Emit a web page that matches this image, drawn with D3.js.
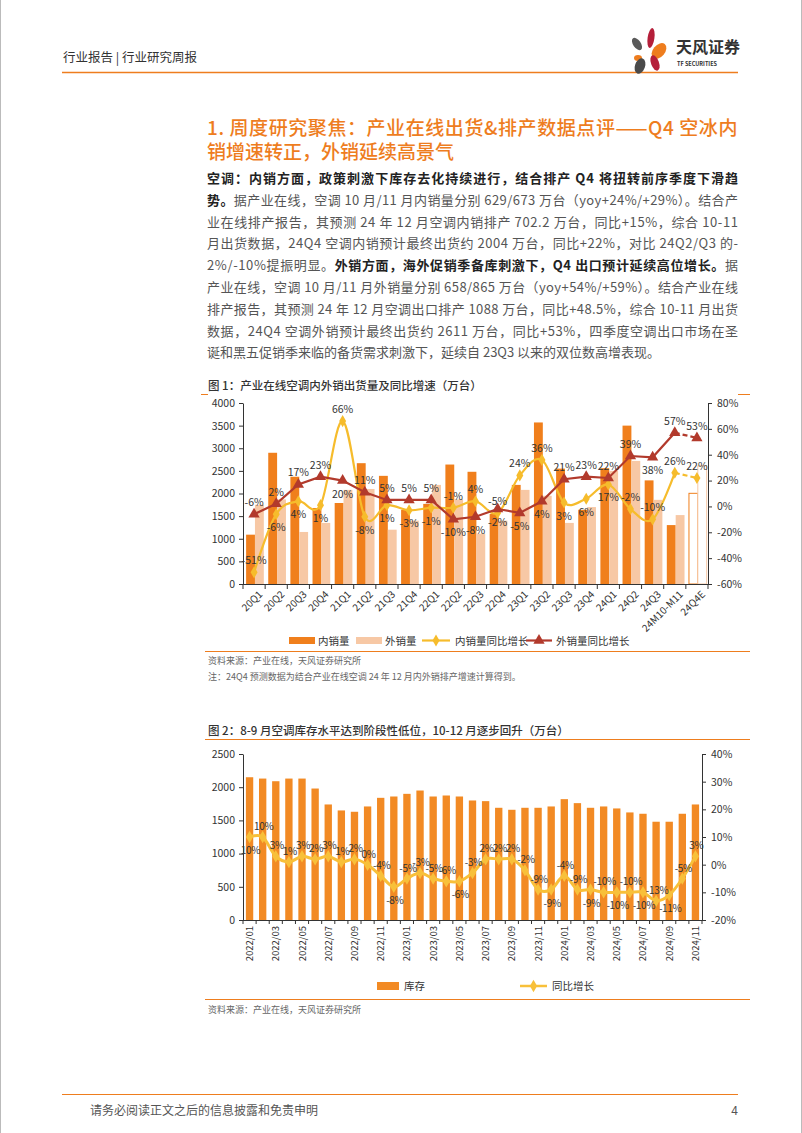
<!DOCTYPE html>
<html><head><meta charset="utf-8">
<script src="https://cdn.jsdelivr.net/npm/d3@7/dist/d3.min.js"></script>
<style>
body{margin:0;background:#fff;}
svg{display:block;font-family:"Noto Sans CJK SC","Noto Sans",sans-serif;}
</style></head><body>
<svg id="page" width="802" height="1133"></svg>
<script>
"use strict";

// ---- data, chart 1 ----
const quarters = ["20Q1","20Q2","20Q3","20Q4","21Q1","21Q2","21Q3","21Q4","22Q1","22Q2","22Q3","22Q4",
  "23Q1","23Q2","23Q3","23Q4","24Q1","24Q2","24Q3","24M10-M11","24Q4E"];
const domestic = [1090,2900,2370,1680,1790,2670,2390,1640,1770,2640,2480,1550,2190,3570,2550,1640,2560,3500,2290,1302,2004];
const exportVol = [1750,1870,1150,1350,2080,2100,1200,1400,2190,1870,1110,1400,2080,1950,1350,1700,2500,2720,1860,1523,2611];
const domesticYoy = [-51,-6,4,1,66,-8,1,-3,-1,-1,4,-5,24,36,3,6,17,-2,-10,26,22];
const exportYoy = [-6,2,17,23,20,11,5,5,5,-10,-8,-2,-5,4,21,23,22,39,38,57,53];
// label side: 1 above, -1 below
const domesticLblSide = [1,-1,-1,-1,1,-1,-1,-1,-1,1,1,1,1,1,-1,-1,-1,1,1,1,1];
const exportLblSide = [1,1,1,1,-1,1,1,1,1,-1,-1,-1,-1,-1,1,1,1,1,-1,1,1];
const leftTicks1 = [0,500,1000,1500,2000,2500,3000,3500,4000];
const rightTicks1 = [-60,-40,-20,0,20,40,60,80];

// ---- data, chart 2 ----
const months = ["2022/01","2022/02","2022/03","2022/04","2022/05","2022/06","2022/07","2022/08","2022/09","2022/10","2022/11","2022/12",
  "2023/01","2023/02","2023/03","2023/04","2023/05","2023/06","2023/07","2023/08","2023/09","2023/10","2023/11","2023/12",
  "2024/01","2024/02","2024/03","2024/04","2024/05","2024/06","2024/07","2024/08","2024/09","2024/10","2024/11"];
const stock = [2150,2130,2090,2130,2130,1980,1740,1650,1630,1710,1840,1860,1900,1950,1860,1875,1860,1800,
  1790,1690,1660,1690,1690,1710,1820,1760,1690,1710,1680,1620,1600,1480,1480,1600,1740];
const stockYoy = [10,10,3,1,3,2,3,1,2,0,-4,-8,-5,-3,-5,-6,-6,-3,2,2,2,-2,-9,-9,-4,-9,-9,-10,-10,-10,-10,-13,-11,-5,3];
const stockLblBelow = [0,11,16,23,26,28,30,32];
const leftTicks2 = [0,500,1000,1500,2000,2500];
const rightTicks2 = [-20,-10,0,10,20,30,40];

const ORANGE = "#EE7D1E", DARK = "#F07F1C", LIGHT = "#F7C8A5", YELLOW = "#F6BC2C", RED = "#B23A2C";
const BAR2 = "#F28A24", LINE2 = "#F8C03A";

const svg = d3.select("#page");

// page edges
svg.append("line").attr("x1",0.5).attr("x2",0.5).attr("y1",0).attr("y2",1133).attr("stroke","#bbb");
svg.append("line").attr("x1",801.5).attr("x2",801.5).attr("y1",0).attr("y2",1133).attr("stroke","#bbb");

// header
svg.append("text").attr("x",63).attr("y",62).attr("font-size",12.5).attr("fill","#333")
  .text("行业报告 | 行业研究周报");
svg.append("line").attr("x1",62).attr("x2",738).attr("y1",72.5).attr("y2",72.5)
  .attr("stroke",ORANGE).attr("stroke-width",1.5);

// logo
const logo = svg.append("g");
[[637,44,3.8,7,-35,"#5a5a5a"],[651,38,3.4,10,8,"#B51F3A"],[659,51,6,9,40,ORANGE],
 [638,58,4,3,0,ORANGE],[640,66,5,8,20,"#4a4a4a"],[655,63,4,8,-20,"#B51F3A"]].forEach(p => {
  logo.append("ellipse").attr("rx",p[2]).attr("ry",p[3])
    .attr("transform",`translate(${p[0]},${p[1]}) rotate(${p[4]})`).attr("fill",p[5]);
});
svg.append("text").attr("x",676).attr("y",53).attr("font-size",16).attr("font-weight",700)
  .attr("fill","#333").text("天风证券");
svg.append("text").attr("x",677).attr("y",66).attr("font-size",5.5).attr("font-weight",700)
  .attr("fill","#333").text("TF SECURITIES");

// justify a text line to a width
function justify(t, width) {
  const n = t.text().length;
  const w = t.node().getComputedTextLength();
  t.attr("letter-spacing", (width - w) / (n - 1));
}

// section title
const titleLines = ["1. 周度研究聚焦：产业在线出货&排产数据点评——Q4 空冰内", "销增速转正，外销延续高景气"];
titleLines.forEach((s,i) => {
  const t = svg.append("text").attr("x",207).attr("y",135 + i*24).attr("font-size",19)
    .attr("font-weight",500).attr("fill",ORANGE).text(s);
  if (i === 0) justify(t, 531);
});

// body
const bodyLines = [
  [["空调：内销方面，政策刺激下库存去化持续进行，结合排产 Q4 将扭转前序季度下滑趋",1]],
  [["势。",1],["据产业在线，空调 10 月/11 月内销量分别 629/673 万台（yoy+24%/+29%）。结合产",0]],
  [["业在线排产报告，其预测 24 年 12 月空调内销排产 702.2 万台，同比+15%，综合 10-11",0]],
  [["月出货数据，24Q4 空调内销预计最终出货约 2004 万台，同比+22%，对比 24Q2/Q3 的-",0]],
  [["2%/-10%提振明显。",0],["外销方面，海外促销季备库刺激下，Q4 出口预计延续高位增长。",1],["据",0]],
  [["产业在线，空调 10 月/11 月外销量分别 658/865 万台（yoy+54%/+59%）。结合产业在线",0]],
  [["排产报告，其预测 24 年 12 月空调出口排产 1088 万台，同比+48.5%，综合 10-11 月出货",0]],
  [["数据，24Q4 空调外销预计最终出货约 2611 万台，同比+53%，四季度空调出口市场在圣",0]],
  [["诞和黑五促销季来临的备货需求刺激下，延续自 23Q3 以来的双位数高增表现。",0]]
];
bodyLines.forEach((segs,i) => {
  const t = svg.append("text").attr("x",207).attr("y",183 + i*21.8).attr("font-size",13);
  segs.forEach(s => t.append("tspan").text(s[0])
    .attr("font-weight", s[1] ? 700 : 400).attr("fill", s[1] ? "#222" : "#555"));
  if (i < bodyLines.length - 1) justify(t, 531);
});

// ================= chart 1 =================
svg.append("text").attr("x",208).attr("y",390).attr("font-size",11.5).attr("font-weight",500)
  .attr("fill","#333").text("图 1：产业在线空调内外销出货量及同比增速（万台）");
svg.append("line").attr("x1",201).attr("x2",208).attr("y1",394.5).attr("y2",394.5).attr("stroke",ORANGE);
svg.append("line").attr("x1",738).attr("x2",750).attr("y1",394.5).attr("y2",394.5).attr("stroke",ORANGE);

const x1 = d3.scaleBand().domain(quarters).range([243,708]);
const y1 = d3.scaleLinear().domain([0,4000]).range([584,403]);
const y1r = d3.scaleLinear().domain([-60,80]).range([584,403]);
const bw1 = x1.bandwidth();
const last1 = quarters.length - 1;
const g1 = svg.append("g");

g1.selectAll(".dom").data(quarters).join("rect").attr("class","dom")
  .attr("x", d => x1(d) + bw1*0.14).attr("width", bw1*0.4)
  .attr("y", (d,i) => y1(domestic[i])).attr("height", (d,i) => y1(0) - y1(domestic[i]))
  .attr("fill", (d,i) => i === last1 ? "#fff" : DARK)
  .attr("stroke", (d,i) => i === last1 ? DARK : "none");
g1.selectAll(".exp").data(quarters).join("rect").attr("class","exp")
  .attr("x", d => x1(d) + bw1*0.54).attr("width", bw1*0.4)
  .attr("y", (d,i) => y1(exportVol[i])).attr("height", (d,i) => y1(0) - y1(exportVol[i]))
  .attr("fill", (d,i) => i === last1 ? "#fff" : LIGHT)
  .attr("stroke", (d,i) => i === last1 ? LIGHT : "none");

// axes
const axL1 = g1.append("g").attr("transform","translate(243,0)")
  .call(d3.axisLeft(y1).tickValues(leftTicks1).tickSize(4).tickSizeOuter(0).tickPadding(4)
    .tickFormat(d3.format("d")));
const clip = svg.append("clipPath").attr("id","clipR");
clip.append("rect").attr("x",0).attr("y",0).attr("width",739).attr("height",1133);
const axR1 = g1.append("g").attr("transform","translate(708,0)").attr("clip-path","url(#clipR)")
  .call(d3.axisRight(y1r).tickValues(rightTicks1).tickSize(4).tickSizeOuter(0).tickPadding(5)
    .tickFormat(d => d + "%"));
[axL1, axR1].forEach(a => {
  a.select(".domain").attr("stroke","#333");
  a.selectAll("line").attr("stroke","#333");
  a.selectAll("text").attr("font-size",10.5).attr("fill","#333")
    .attr("font-family","'Noto Sans CJK SC',sans-serif");
});

g1.append("line").attr("x1",243).attr("x2",708).attr("y1",584.5).attr("y2",584.5).attr("stroke","#333");
g1.selectAll(".xt").data(quarters.concat(["_end"])).join("line")
  .attr("x1", (d,i) => 243 + i*bw1).attr("x2", (d,i) => 243 + i*bw1)
  .attr("y1",584).attr("y2",589).attr("stroke","#333");
g1.selectAll(".xl").data(quarters).join("text")
  .attr("transform", d => `translate(${x1(d) + bw1*0.5 + 9},${595}) rotate(-45)`)
  .attr("text-anchor","end").attr("font-size",10).attr("fill","#333").text(d => d);

// lines
const cx1 = i => x1(quarters[i]) + bw1/2;
const solidIdx = d3.range(0, last1);
const yLine = d3.line().x(i => cx1(i)).y(i => y1r(domesticYoy[i])).curve(d3.curveCatmullRom.alpha(0));
const rLine = d3.line().x(i => cx1(i)).y(i => y1r(exportYoy[i]));
g1.append("path").attr("d", yLine(solidIdx)).attr("fill","none").attr("stroke",YELLOW).attr("stroke-width",2.2);
g1.append("path").attr("d", yLine([last1-1,last1])).attr("fill","none").attr("stroke",YELLOW)
  .attr("stroke-width",2.2).attr("stroke-dasharray","5,3");
g1.append("path").attr("d", rLine(solidIdx)).attr("fill","none").attr("stroke",RED).attr("stroke-width",2.2);
g1.append("path").attr("d", rLine([last1-1,last1])).attr("fill","none").attr("stroke",RED)
  .attr("stroke-width",2.2).attr("stroke-dasharray","5,3");

g1.selectAll(".dm").data(domesticYoy).join("path")
  .attr("d", d3.symbol(d3.symbolDiamond, 42)())
  .attr("transform", (d,i) => `translate(${cx1(i)},${y1r(d)})`).attr("fill",YELLOW);
g1.selectAll(".tm").data(exportYoy).join("path")
  .attr("d", d3.symbol(d3.symbolTriangle, 55)())
  .attr("transform", (d,i) => `translate(${cx1(i)},${y1r(d)})`).attr("fill",RED);

g1.selectAll(".dl").data(domesticYoy).join("text")
  .attr("x", (d,i) => cx1(i)).attr("y", (d,i) => y1r(d) + (domesticLblSide[i] > 0 ? -8 : 17))
  .attr("text-anchor","middle").attr("font-size",10.5).attr("fill","#333").text(d => d + "%");
g1.selectAll(".el").data(exportYoy).join("text")
  .attr("x", (d,i) => cx1(i)).attr("y", (d,i) => y1r(d) + (exportLblSide[i] > 0 ? -8 : 17))
  .attr("text-anchor","middle").attr("font-size",10.5).attr("fill","#333").text(d => d + "%");

// legend 1
const lg1 = svg.append("g").attr("font-size",10.5).attr("fill","#333");
lg1.append("rect").attr("x",289).attr("y",637).attr("width",26).attr("height",7).attr("fill",DARK);
lg1.append("text").attr("x",318).attr("y",645).text("内销量");
lg1.append("rect").attr("x",356).attr("y",637).attr("width",26).attr("height",7).attr("fill",LIGHT);
lg1.append("text").attr("x",385).attr("y",645).text("外销量");
lg1.append("line").attr("x1",422).attr("x2",450).attr("y1",640.5).attr("y2",640.5).attr("stroke",YELLOW).attr("stroke-width",2.2);
lg1.append("path").attr("d", d3.symbol(d3.symbolDiamond, 42)()).attr("transform","translate(436,640.5)").attr("fill",YELLOW);
lg1.append("text").attr("x",455).attr("y",645).text("内销量同比增长");
lg1.append("line").attr("x1",526).attr("x2",552).attr("y1",640.5).attr("y2",640.5).attr("stroke",RED).attr("stroke-width",2.2);
lg1.append("path").attr("d", d3.symbol(d3.symbolTriangle, 55)()).attr("transform","translate(539,640.5)").attr("fill",RED);
lg1.append("text").attr("x",556).attr("y",645).text("外销量同比增长");

svg.append("line").attr("x1",205).attr("x2",750).attr("y1",651.5).attr("y2",651.5).attr("stroke",ORANGE).attr("stroke-width",1.2);
svg.append("text").attr("x",208).attr("y",664).attr("font-size",9).attr("fill","#666").text("资料来源：产业在线，天风证券研究所");
svg.append("text").attr("x",208).attr("y",680).attr("font-size",9).attr("fill","#666").text("注：24Q4 预测数据为结合产业在线空调 24 年 12 月内外销排产增速计算得到。");

// ================= chart 2 =================
svg.append("text").attr("x",208).attr("y",735).attr("font-size",11.5).attr("font-weight",500)
  .attr("fill","#333").text("图 2：8-9 月空调库存水平达到阶段性低位，10-12 月逐步回升（万台）");
svg.append("line").attr("x1",205).attr("x2",750).attr("y1",739.5).attr("y2",739.5).attr("stroke",ORANGE).attr("stroke-width",1.2);

const x2 = d3.scaleBand().domain(months).range([243,702]);
const y2 = d3.scaleLinear().domain([0,2500]).range([920,754]);
const y2r = d3.scaleLinear().domain([-20,40]).range([920,754]);
const bw2 = x2.bandwidth();
const g2 = svg.append("g");

g2.selectAll(".st").data(months).join("rect")
  .attr("x", d => x2(d) + bw2*0.22).attr("width", bw2*0.56)
  .attr("y", (d,i) => y2(stock[i])).attr("height", (d,i) => y2(0) - y2(stock[i]))
  .attr("fill",BAR2);

const axL2 = g2.append("g").attr("transform","translate(243,0)")
  .call(d3.axisLeft(y2).tickValues(leftTicks2).tickSize(4).tickSizeOuter(0).tickPadding(4)
    .tickFormat(d3.format("d")));
const axR2 = g2.append("g").attr("transform","translate(702,0)")
  .call(d3.axisRight(y2r).tickValues(rightTicks2).tickSize(4).tickSizeOuter(0).tickPadding(5)
    .tickFormat(d => d + "%"));
[axL2, axR2].forEach(a => {
  a.select(".domain").attr("stroke","#333");
  a.selectAll("line").attr("stroke","#333");
  a.selectAll("text").attr("font-size",10.5).attr("fill","#333")
    .attr("font-family","'Noto Sans CJK SC',sans-serif");
});
g2.append("line").attr("x1",243).attr("x2",702).attr("y1",920.5).attr("y2",920.5).attr("stroke","#333");
g2.selectAll(".xt2").data(months.concat(["_end"])).join("line")
  .attr("x1", (d,i) => 243 + i*bw2).attr("x2", (d,i) => 243 + i*bw2)
  .attr("y1",920).attr("y2",924).attr("stroke","#333");
g2.selectAll(".xl2").data(months.filter((d,i) => i % 2 === 0)).join("text")
  .attr("transform", d => `translate(${x2(d) + bw2/2 + 3.5},${926}) rotate(-90)`)
  .attr("text-anchor","end").attr("font-size",9.5).attr("fill","#333").text(d => d);

const cx2 = i => x2(months[i]) + bw2/2;
const sLine = d3.line().x(i => cx2(i)).y(i => y2r(stockYoy[i])).curve(d3.curveCatmullRom.alpha(0));
g2.append("path").attr("d", sLine(d3.range(months.length))).attr("fill","none")
  .attr("stroke",LINE2).attr("stroke-width",3);
g2.selectAll(".sm").data(stockYoy).join("path")
  .attr("d", d3.symbol(d3.symbolDiamond, 45)())
  .attr("transform", (d,i) => `translate(${cx2(i)},${y2r(d)})`).attr("fill",LINE2);
g2.selectAll(".sl").data(stockYoy).join("text")
  .attr("x", (d,i) => cx2(i) + 1)
  .attr("y", (d,i) => y2r(d) + (stockLblBelow.includes(i) ? 17 : -7))
  .attr("text-anchor","middle").attr("font-size",10).attr("letter-spacing",-0.3)
  .attr("fill","#333").text(d => d + "%");

// legend 2
const lg2 = svg.append("g").attr("font-size",10.5).attr("fill","#333");
lg2.append("rect").attr("x",377).attr("y",982).attr("width",22).attr("height",8).attr("fill",BAR2);
lg2.append("text").attr("x",404).attr("y",990).text("库存");
lg2.append("line").attr("x1",520).attr("x2",547).attr("y1",986).attr("y2",986).attr("stroke",LINE2).attr("stroke-width",2.5);
lg2.append("path").attr("d", d3.symbol(d3.symbolDiamond, 45)()).attr("transform","translate(533.5,986)").attr("fill",LINE2);
lg2.append("text").attr("x",552).attr("y",990).text("同比增长");

svg.append("line").attr("x1",205).attr("x2",750).attr("y1",999.5).attr("y2",999.5).attr("stroke",ORANGE).attr("stroke-width",1.2);
svg.append("text").attr("x",208).attr("y",1013).attr("font-size",9).attr("fill","#666").text("资料来源：产业在线，天风证券研究所");

// footer
svg.append("line").attr("x1",62).attr("x2",738).attr("y1",1094.5).attr("y2",1094.5).attr("stroke",ORANGE).attr("stroke-width",1.2);
svg.append("text").attr("x",90).attr("y",1115).attr("font-size",12).attr("fill","#555").text("请务必阅读正文之后的信息披露和免责申明");
svg.append("text").attr("x",738).attr("y",1115).attr("text-anchor","end").attr("font-size",12).attr("fill","#555").text("4");
</script></body></html>
